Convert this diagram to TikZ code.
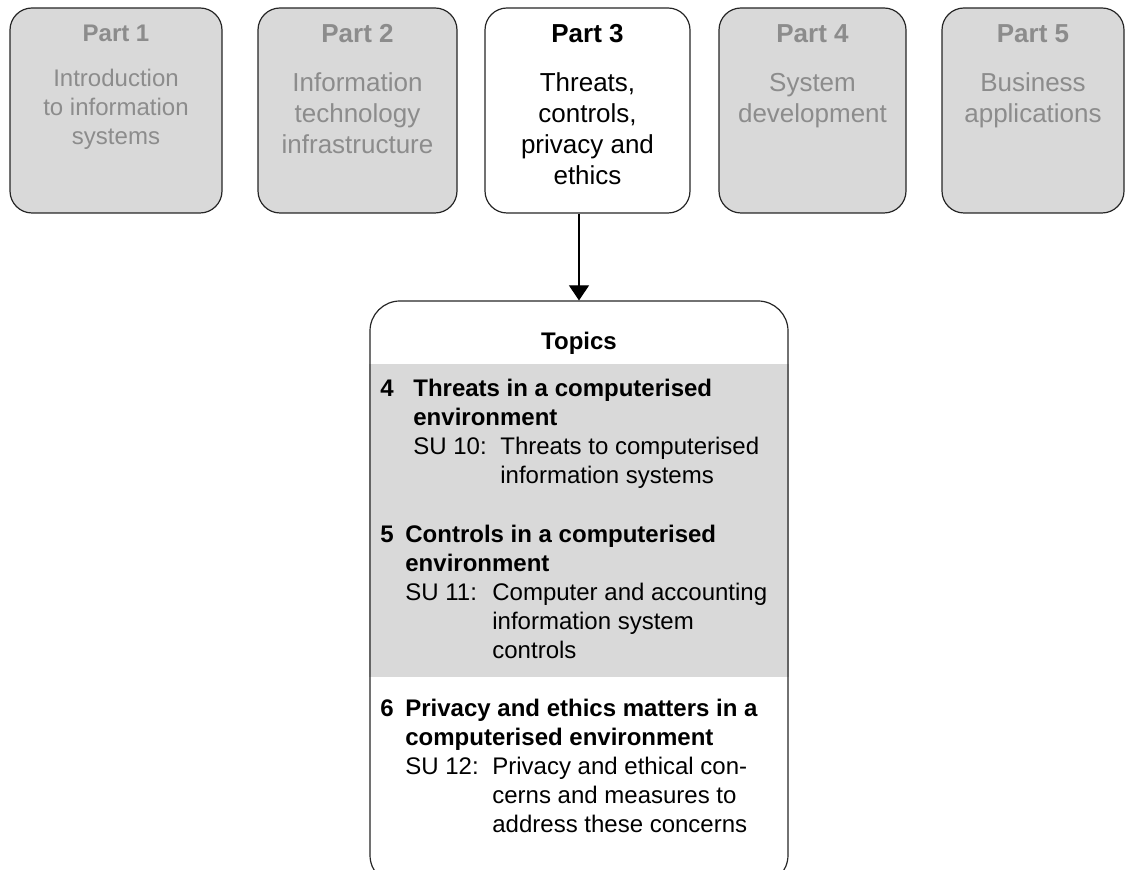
\documentclass[tikz,border=0pt]{standalone}
\usepackage{fontspec}
\setmainfont{Liberation Sans}
\usepackage{xcolor}
\usetikzlibrary{arrows.meta,positioning,calc,backgrounds}

\definecolor{boxgray}{HTML}{D9D9D9}
\definecolor{fadegray}{HTML}{8C8C8C}
\definecolor{edgegray}{HTML}{262626}

\begin{document}
\begin{tikzpicture}[
  x=0.5pt, y=-0.5pt,
  partbox/.style={draw=edgegray, line width=0.6pt, rounded corners=11pt,
                  fill=boxgray, minimum height=102.5pt, inner sep=0pt},
  parttitle/.style={anchor=base, inner sep=0pt, text=fadegray,
                    font=\fontsize{13}{15.5}\selectfont\bfseries},
  partbody/.style={anchor=base, inner sep=0pt, text=fadegray,
                   font=\fontsize{13}{15.5}\selectfont},
  topicbox/.style={draw=edgegray, line width=0.6pt, rounded corners=15pt,
                   minimum width=209pt, minimum height=292pt, inner sep=0pt},
  topic/.style={anchor=base west, inner sep=0pt,
                font=\fontsize{12}{14.5}\selectfont},
  arr/.style={-{Triangle[width=10pt,length=7.5pt]}, line width=0.55pt, draw=black},
]
\useasboundingbox (0,0) rectangle (1126,870);
\clip (0,0) rectangle (1126,870);

%% ---- row of parts ----
\node[partbox, minimum width=106pt]   (p1) at (116,110.5)    {};
\node[partbox, minimum width=99.5pt]  (p2) at (357.5,110.5)  {};
\node[partbox, minimum width=102.5pt, fill=white] (p3) at (587.5,110.5) {};
\node[partbox, minimum width=93.5pt]  (p4) at (812.5,110.5)  {};
\node[partbox, minimum width=91pt]    (p5) at (1033,110.5)   {};

%% ---- part texts ----
\node[parttitle, font=\fontsize{12}{14.5}\selectfont\bfseries] (p1t) at ([yshift=-17pt]p1.north) {Part 1};
\node[partbody, font=\fontsize{12}{14.5}\selectfont] (p1b) at ([yshift=-39.5pt]p1.north)
  {\begin{tabular}[t]{@{}c@{}}Introduction\\to information\\systems\end{tabular}};

\node[parttitle] (p2t) at ([yshift=-17.5pt]p2.north) {Part 2};
\node[partbody]  (p2b) at ([yshift=-42pt]p2.north)
  {\begin{tabular}[t]{@{}c@{}}Information\\technology\\infrastructure\end{tabular}};

\node[parttitle, text=black] (p3t) at ([yshift=-17.5pt]p3.north) {Part 3};
\node[partbody, text=black]  (p3b) at ([yshift=-42pt]p3.north)
  {\begin{tabular}[t]{@{}c@{}}Threats,\\controls,\\privacy and\\ethics\end{tabular}};

\node[parttitle] (p4t) at ([yshift=-17.5pt]p4.north) {Part 4};
\node[partbody]  (p4b) at ([yshift=-42pt]p4.north)
  {\begin{tabular}[t]{@{}c@{}}System\\development\end{tabular}};

\node[parttitle] (p5t) at ([yshift=-17.5pt]p5.north) {Part 5};
\node[partbody]  (p5b) at ([yshift=-42pt]p5.north)
  {\begin{tabular}[t]{@{}c@{}}Business\\applications\end{tabular}};

%% ---- topics box ----
\node[topicbox] (topics) at (579,593) {};
\begin{scope}[on background layer]
  \fill[boxgray] (topics.west |- 0,364) rectangle (topics.east |- 0,677);
\end{scope}

\node[topic, anchor=base, font=\fontsize{12}{14.5}\selectfont\bfseries] (toph) at (579,350) {Topics};

\node[topic] (top4) at (380,397)
  {\begin{tabular}[t]{@{}p{16.5pt}@{}p{43.5pt}@{}l@{}}
   \textbf{4} & \multicolumn{2}{@{}l@{}}{\textbf{Threats in a computerised}}\\
     & \multicolumn{2}{@{}l@{}}{\textbf{environment}}\\
     & SU 10: & Threats to computerised\\
     &        & information systems
   \end{tabular}};

\node[topic] (top5) at (380,543)
  {\begin{tabular}[t]{@{}p{12.5pt}@{}p{43.5pt}@{}l@{}}
   \textbf{5} & \multicolumn{2}{@{}l@{}}{\textbf{Controls in a computerised}}\\
     & \multicolumn{2}{@{}l@{}}{\textbf{environment}}\\
     & SU 11: & Computer and accounting\\
     &        & information system\\
     &        & controls
   \end{tabular}};

\node[topic] (top6) at (380,717)
  {\begin{tabular}[t]{@{}p{12.5pt}@{}p{43.5pt}@{}l@{}}
   \textbf{6} & \multicolumn{2}{@{}l@{}}{\textbf{Privacy and ethics matters in a}}\\
     & \multicolumn{2}{@{}l@{}}{\textbf{computerised environment}}\\
     & SU 12: & Privacy and ethical con-\\
     &        & cerns and measures to\\
     &        & address these concerns
   \end{tabular}};

%% ---- arrow ----
\draw[arr] (topics.north |- p3.south) -- (topics.north);
\end{tikzpicture}
\end{document}
